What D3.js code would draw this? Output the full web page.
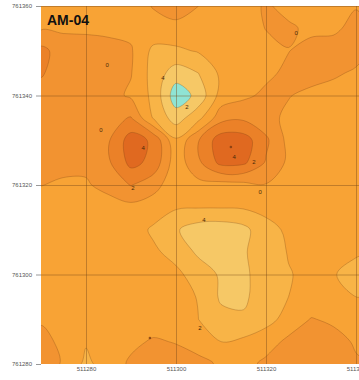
<!DOCTYPE html>
<html>
<head>
<meta charset="utf-8">
<script src="https://cdn.jsdelivr.net/npm/d3@7"></script>
<style>
  html, body { margin: 0; padding: 0; background: #fff; }
  svg { display: block; font-family: "Liberation Sans", Arial, sans-serif; }
</style>
</head>
<body>
<div id="chart"></div>
<script>
const title = 'AM-04';
const xTicks = [511280, 511300, 511320, 511340];
const yTicks = [761280, 761300, 761320, 761340, 761360];

// value grid, 5 m spacing, first row = northing 761360, first column = easting 511270
const gridX0 = 511270, gridY0 = 761360, step = 5;
const grid = [
  [-0.5, -1.0, -1.2, -1.0, -0.8,  0.1,  0.8,  0.0, -1.0, -0.9,  0.25, -0.6, -1.2, -0.8, -0.1],
  [-0.2, -0.3, -0.3, -0.4, -0.5, -0.6, -0.5, -0.8, -1.0, -0.8,  0.05,  0.3, -0.4, -0.3,  0.5],
  [ 2.6,  1.0,  0.8,  0.6,  0.2, -2.5, -2.4, -1.8, -1.0, -0.8, -0.5, -0.05, 0.6,  0.7,  0.8],
  [ 2.2,  1.0,  0.8,  0.5,  0.1, -2.8, -5.0, -4.0, -1.6, -0.8, -0.4,  0.4,  0.8,  0.3, -0.3],
  [ 1.2,  1.0,  0.9,  0.7, -0.3, -2.5, -7.2, -5.4, -1.2, -0.4,  0.4,  0.1, -0.5, -0.8, -0.9],
  [ 1.0,  1.0,  1.0,  1.5,  2.1, -2.2, -5.0, -2.6,  1.2,  1.6,  0.6, -0.4, -0.8, -1.0, -1.0],
  [ 0.9,  0.8,  0.7,  1.8,  5.0,  3.6, -1.7,  1.9,  5.2,  5.0,  2.4, -0.6, -1.0, -1.0, -1.0],
  [ 0.7,  0.6,  0.4,  1.7,  4.6,  3.4, -1.2,  1.6,  4.6,  4.4,  1.8, -0.4, -1.0, -1.0, -1.0],
  [ 0.05, -0.3, -0.2,  0.6,  2.1,  0.7, -1.2, -0.6, -0.8, -0.6, -0.1, -0.8, -1.0, -1.0, -1.0],
  [-1.0, -1.1, -1.0, -0.8, -0.6, -1.0, -1.8, -1.9, -1.9, -1.8, -1.5, -1.2, -1.0, -1.0, -1.0],
  [-1.0, -1.0, -1.0, -1.0, -1.1, -2.3, -3.8, -5.0, -5.2, -4.6, -2.6, -1.7, -1.2, -1.2, -1.2],
  [-1.0, -1.0, -1.0, -1.0, -1.2, -1.7, -2.6, -4.4, -4.8, -4.2, -3.0, -1.9, -1.3, -1.5, -1.8],
  [-1.0, -1.0, -1.0, -1.0, -1.0, -1.3, -1.6, -2.8, -4.3, -4.4, -3.0, -2.1, -1.6, -1.9, -2.6],
  [-1.0, -1.0, -1.0, -1.0, -1.0, -1.1, -1.3, -2.1, -4.3, -4.4, -2.8, -2.0, -1.3, -1.7, -2.0],
  [-0.3, -1.0, -1.2, -1.0, -0.8, -0.9, -1.1, -2.0, -3.4, -3.7, -2.6, -1.4,  0.1, -0.3, -0.8],
  [ 0.8, -0.6, -1.8, -1.2, -0.4,  0.2, -0.1, -0.6, -2.0, -1.6, -1.0,  0.5,  1.0,  0.6, -0.2],
  [ 1.0, -0.2, -2.5, -1.0,  0.3,  1.0,  0.8,  0.4, -0.2, -0.8,  0.5,  1.0,  0.6,  0.8,  0.2]
];

const levels = [-6, -4, -2, 0, 2, 4, 6];
const levelColors = ['#f6c866', '#f8b447', '#f8a335', '#f29331', '#eb8128', '#e06920', '#d45a1a'];
const lowColor = '#8fe4d4';

// contour labels and sample markers (map coordinates)
const labelX = [511283.3, 511297.1, 511302.4, 511292.7, 511290.4, 511312.9, 511317.3, 511318.7, 511306.2, 511305.3, 511284.7, 511326.7];
const labelY = [761332.3, 761343.9, 761337.4, 761328.3, 761319.3, 761326.3, 761325.1, 761318.4, 761312.2, 761288.0, 761346.8, 761354.0];
const labelText = ['0', '4', '2', '4', '2', '4', '2', '0', '4', '2', '0', '0'];
const markX = [511312.2, 511294.2];
const markY = [761328.5, 761285.8];

const width = 359, height = 380;
const margin = { top: 6, right: 0, bottom: 16, left: 41 };

const svg = d3.select('#chart').append('svg')
    .attr('width', width)
    .attr('height', height);

const x = d3.scaleLinear().domain([511270, 511340]).range([41, 356]);
const y = d3.scaleLinear().domain([761280, 761360]).range([364, 6]);

svg.append('clipPath').attr('id', 'plot')
  .append('rect')
    .attr('x', margin.left).attr('y', margin.top)
    .attr('width', width - margin.left).attr('height', y(761280) - margin.top);

const plot = svg.append('g').attr('clip-path', 'url(#plot)');

plot.append('rect')
    .attr('x', margin.left).attr('y', margin.top)
    .attr('width', width - margin.left).attr('height', y(761280) - margin.top)
    .attr('fill', lowColor);

const cols = grid[0].length, rows = grid.length;
const contours = d3.contours().size([cols, rows]).thresholds(levels)(grid.flat());

const ring = d3.line()
    .curve(d3.curveCatmullRomClosed.alpha(0.5))
    .x(p => x(gridX0 + (p[0] - 0.5) * step))
    .y(p => y(gridY0 - (p[1] - 0.5) * step));

plot.append('g')
  .selectAll('path')
  .data(contours)
  .join('path')
    .attr('d', c => c.coordinates.map(poly => poly.map(r => ring(r.slice(0, -1))).join('')).join(''))
    .attr('fill', (c, i) => levelColors[i])
    .attr('fill-rule', 'evenodd')
    .attr('stroke', '#6b3a10')
    .attr('stroke-opacity', 0.45)
    .attr('stroke-width', 0.6);

// grid lines
plot.append('g')
    .attr('transform', `translate(0,${y(761280)})`)
    .call(d3.axisBottom(x).tickValues(xTicks).tickSize(-(y(761280) - margin.top)).tickFormat(''))
    .call(g => g.select('.domain').remove())
    .call(g => g.selectAll('line').attr('stroke', '#7a4a1a').attr('stroke-opacity', 0.55).attr('stroke-width', 0.8));

plot.append('g')
    .attr('transform', `translate(${margin.left},0)`)
    .call(d3.axisLeft(y).tickValues(yTicks).tickSize(-(width - margin.left)).tickFormat(''))
    .call(g => g.select('.domain').remove())
    .call(g => g.selectAll('line').attr('stroke', '#7a4a1a').attr('stroke-opacity', 0.55).attr('stroke-width', 0.8));

// contour labels
plot.append('g')
  .selectAll('text')
  .data(labelText)
  .join('text')
    .attr('x', (d, i) => x(labelX[i]))
    .attr('y', (d, i) => y(labelY[i]))
    .attr('dy', '0.35em')
    .attr('text-anchor', 'middle')
    .attr('font-size', 6)
    .attr('fill', '#4a2a08')
    .text(d => d);

plot.append('g')
  .selectAll('circle')
  .data(markX)
  .join('circle')
    .attr('cx', d => x(d))
    .attr('cy', (d, i) => y(markY[i]))
    .attr('r', 1.3)
    .attr('fill', '#7a3a10')
    .attr('fill-opacity', 0.8);

// axes
svg.append('g')
    .attr('transform', `translate(${margin.left},0)`)
    .call(d3.axisLeft(y).tickValues(yTicks).tickSize(5).tickPadding(4).tickFormat(d3.format('d')))
    .call(g => g.select('.domain').remove())
    .call(g => g.selectAll('line').attr('stroke', '#999'))
    .call(g => g.selectAll('text').attr('font-size', 6).attr('fill', '#555'));

svg.append('g')
    .attr('transform', `translate(0,${y(761280)})`)
    .call(d3.axisBottom(x).tickValues(xTicks).tickSize(0).tickPadding(3).tickFormat(d3.format('d')))
    .call(g => g.select('.domain').remove())
    .call(g => g.selectAll('text').attr('font-size', 6).attr('fill', '#555'));

svg.append('text')
    .attr('x', 47)
    .attr('y', 25)
    .attr('font-size', 14)
    .attr('font-weight', 'bold')
    .attr('fill', '#111')
    .text(title);
</script>
</body>
</html>
